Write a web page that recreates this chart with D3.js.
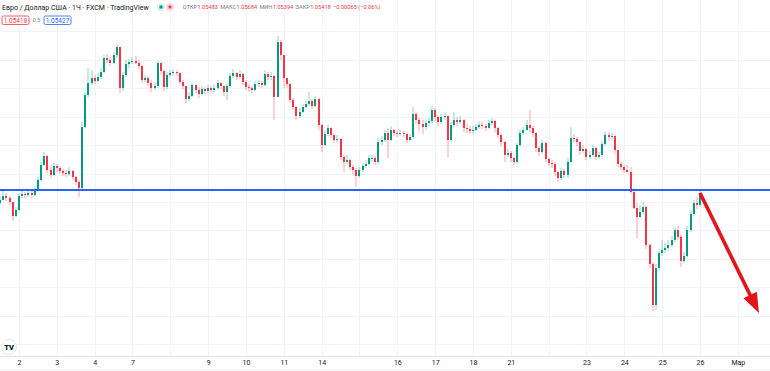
<!DOCTYPE html>
<html><head><meta charset="utf-8">
<script src="https://cdn.jsdelivr.net/npm/d3@7"></script>
<style>html,body{margin:0;padding:0;background:#fff;overflow:hidden}text{font-family:Roboto,"Liberation Sans",sans-serif}</style>
</head><body><svg id="c" width="770" height="371"></svg>
<script>
// ---- data (EUR/USD, 2h candles) ----
const open=[1.0537,1.0540,1.0544,1.0542,1.0538,1.0524,1.0530,1.0544,1.0546,1.0545,
1.0547,1.0545,1.0551,1.0560,1.0575,1.0584,1.0570,1.0565,1.0574,1.0572,
1.0569,1.0567,1.0566,1.0569,1.0563,1.0558,1.0552,1.0613,1.0645,1.0657,
1.0662,1.0659,1.0663,1.0668,1.0682,1.0680,1.0677,1.0685,1.0693,1.0652,
1.0665,1.0676,1.0678,1.0679,1.0677,1.0674,1.0660,1.0662,1.0657,1.0652,
1.0654,1.0677,1.0669,1.0653,1.0665,1.0667,1.0668,1.0667,1.0658,1.0654,
1.0641,1.0644,1.0655,1.0650,1.0646,1.0651,1.0649,1.0652,1.0650,1.0652,
1.0657,1.0654,1.0648,1.0654,1.0664,1.0667,1.0663,1.0666,1.0658,1.0653,
1.0652,1.0650,1.0656,1.0657,1.0655,1.0666,1.0663,1.0664,1.0643,1.0698,
1.0685,1.0662,1.0656,1.0640,1.0633,1.0624,1.0628,1.0633,1.0636,1.0639,
1.0634,1.0641,1.0615,1.0595,1.0606,1.0612,1.0605,1.0600,1.0601,1.0583,
1.0578,1.0580,1.0573,1.0570,1.0564,1.0570,1.0574,1.0576,1.0582,1.0582,
1.0578,1.0598,1.0600,1.0607,1.0600,1.0610,1.0607,1.0606,1.0607,1.0606,
1.0600,1.0603,1.0626,1.0620,1.0616,1.0613,1.0617,1.0619,1.0630,1.0623,
1.0618,1.0623,1.0624,1.0600,1.0615,1.0620,1.0618,1.0620,1.0612,1.0611,
1.0609,1.0610,1.0613,1.0615,1.0614,1.0612,1.0617,1.0619,1.0612,1.0605,
1.0598,1.0585,1.0587,1.0582,1.0578,1.0595,1.0607,1.0610,1.0615,1.0612,
1.0607,1.0592,1.0588,1.0597,1.0581,1.0577,1.0576,1.0568,1.0562,1.0569,
1.0565,1.0578,1.0602,1.0601,1.0598,1.0589,1.0591,1.0583,1.0585,1.0592,
1.0583,1.0585,1.0596,1.0605,1.0603,1.0604,1.0590,1.0576,1.0573,1.0570,
1.0568,1.0548,1.0532,1.0523,1.0528,1.0533,1.0495,1.0476,1.0435,1.0472,
1.0487,1.0490,1.0492,1.0495,1.0500,1.0510,1.0503,1.0479,1.0484,1.0510,
1.0526,1.0537,1.0535];
const close=[1.0540,1.0544,1.0542,1.0538,1.0524,1.0530,1.0544,1.0546,1.0545,1.0547,
1.0545,1.0551,1.0560,1.0575,1.0584,1.0570,1.0565,1.0574,1.0572,1.0569,
1.0567,1.0566,1.0569,1.0563,1.0558,1.0552,1.0613,1.0645,1.0657,1.0662,
1.0659,1.0663,1.0668,1.0682,1.0680,1.0677,1.0685,1.0693,1.0652,1.0665,
1.0676,1.0678,1.0679,1.0677,1.0674,1.0660,1.0662,1.0657,1.0652,1.0654,
1.0677,1.0669,1.0653,1.0665,1.0667,1.0668,1.0667,1.0658,1.0654,1.0641,
1.0644,1.0655,1.0650,1.0646,1.0651,1.0649,1.0652,1.0650,1.0652,1.0657,
1.0654,1.0648,1.0654,1.0664,1.0667,1.0663,1.0666,1.0658,1.0653,1.0652,
1.0650,1.0656,1.0657,1.0655,1.0666,1.0663,1.0664,1.0643,1.0698,1.0685,
1.0662,1.0656,1.0640,1.0633,1.0624,1.0628,1.0633,1.0636,1.0639,1.0634,
1.0641,1.0615,1.0595,1.0606,1.0612,1.0605,1.0600,1.0601,1.0583,1.0578,
1.0580,1.0573,1.0570,1.0564,1.0570,1.0574,1.0576,1.0582,1.0582,1.0578,
1.0598,1.0600,1.0607,1.0600,1.0610,1.0607,1.0606,1.0607,1.0606,1.0600,
1.0603,1.0626,1.0620,1.0616,1.0613,1.0617,1.0619,1.0630,1.0623,1.0618,
1.0623,1.0624,1.0600,1.0615,1.0620,1.0618,1.0620,1.0612,1.0611,1.0609,
1.0610,1.0613,1.0615,1.0614,1.0612,1.0617,1.0619,1.0612,1.0605,1.0598,
1.0585,1.0587,1.0582,1.0578,1.0595,1.0607,1.0610,1.0615,1.0612,1.0607,
1.0592,1.0588,1.0597,1.0581,1.0577,1.0576,1.0568,1.0562,1.0569,1.0565,
1.0578,1.0602,1.0601,1.0598,1.0589,1.0591,1.0583,1.0585,1.0592,1.0583,
1.0585,1.0596,1.0605,1.0603,1.0604,1.0590,1.0576,1.0573,1.0570,1.0568,
1.0548,1.0532,1.0523,1.0528,1.0533,1.0495,1.0476,1.0435,1.0472,1.0487,
1.0490,1.0492,1.0495,1.0500,1.0510,1.0503,1.0479,1.0484,1.0510,1.0526,
1.0537,1.0535,1.0547];
const high=[1.0544,1.0550,1.0547,1.0544,1.0538,1.0533,1.0546,1.0549,1.0548,1.0550,
1.0549,1.0554,1.0563,1.0578,1.0588,1.0585,1.0575,1.0577,1.0576,1.0574,
1.0571,1.0570,1.0573,1.0570,1.0564,1.0560,1.0618,1.0648,1.0672,1.0670,
1.0665,1.0667,1.0672,1.0685,1.0686,1.0683,1.0688,1.0696,1.0693,1.0668,
1.0680,1.0681,1.0683,1.0684,1.0680,1.0675,1.0665,1.0664,1.0660,1.0658,
1.0679,1.0677,1.0670,1.0668,1.0670,1.0671,1.0670,1.0668,1.0660,1.0654,
1.0648,1.0657,1.0656,1.0653,1.0654,1.0653,1.0655,1.0654,1.0656,1.0660,
1.0658,1.0655,1.0656,1.0667,1.0671,1.0668,1.0670,1.0667,1.0660,1.0656,
1.0654,1.0659,1.0660,1.0659,1.0670,1.0668,1.0668,1.0665,1.0704,1.0700,
1.0685,1.0662,1.0657,1.0642,1.0634,1.0632,1.0636,1.0640,1.0648,1.0641,
1.0644,1.0642,1.0616,1.0610,1.0615,1.0613,1.0607,1.0605,1.0602,1.0585,
1.0585,1.0581,1.0575,1.0572,1.0573,1.0577,1.0580,1.0585,1.0585,1.0584,
1.0602,1.0604,1.0610,1.0612,1.0614,1.0611,1.0610,1.0610,1.0609,1.0607,
1.0606,1.0633,1.0628,1.0622,1.0620,1.0621,1.0622,1.0634,1.0632,1.0625,
1.0626,1.0627,1.0623,1.0618,1.0628,1.0623,1.0624,1.0621,1.0616,1.0614,
1.0614,1.0616,1.0618,1.0618,1.0616,1.0620,1.0622,1.0620,1.0613,1.0606,
1.0599,1.0591,1.0589,1.0583,1.0597,1.0610,1.0613,1.0620,1.0630,1.0614,
1.0608,1.0594,1.0600,1.0598,1.0582,1.0580,1.0578,1.0569,1.0572,1.0571,
1.0582,1.0613,1.0606,1.0603,1.0599,1.0595,1.0592,1.0589,1.0595,1.0593,
1.0588,1.0599,1.0608,1.0608,1.0607,1.0605,1.0590,1.0578,1.0575,1.0575,
1.0573,1.0552,1.0537,1.0535,1.0538,1.0534,1.0496,1.0478,1.0476,1.0491,
1.0500,1.0497,1.0500,1.0504,1.0513,1.0514,1.0505,1.0488,1.0514,1.0530,
1.0540,1.0543,1.0549];
const low=[1.0535,1.0540,1.0539,1.0535,1.0519,1.0523,1.0529,1.0542,1.0542,1.0543,
1.0542,1.0544,1.0550,1.0559,1.0574,1.0567,1.0562,1.0564,1.0568,1.0566,
1.0564,1.0563,1.0564,1.0560,1.0555,1.0543,1.0550,1.0612,1.0643,1.0655,
1.0656,1.0658,1.0661,1.0667,1.0677,1.0674,1.0676,1.0682,1.0647,1.0649,
1.0663,1.0672,1.0676,1.0676,1.0670,1.0657,1.0658,1.0654,1.0648,1.0650,
1.0652,1.0665,1.0649,1.0651,1.0663,1.0664,1.0664,1.0656,1.0651,1.0637,
1.0639,1.0643,1.0647,1.0642,1.0645,1.0646,1.0647,1.0647,1.0648,1.0650,
1.0651,1.0644,1.0640,1.0652,1.0662,1.0660,1.0661,1.0655,1.0650,1.0648,
1.0647,1.0649,1.0653,1.0652,1.0654,1.0660,1.0660,1.0620,1.0643,1.0680,
1.0652,1.0652,1.0637,1.0630,1.0620,1.0622,1.0627,1.0632,1.0634,1.0631,
1.0633,1.0610,1.0588,1.0594,1.0604,1.0602,1.0597,1.0597,1.0580,1.0568,
1.0576,1.0570,1.0566,1.0553,1.0562,1.0568,1.0572,1.0575,1.0578,1.0575,
1.0576,1.0595,1.0598,1.0582,1.0599,1.0604,1.0603,1.0604,1.0603,1.0597,
1.0599,1.0602,1.0616,1.0609,1.0606,1.0610,1.0614,1.0617,1.0619,1.0614,
1.0616,1.0620,1.0583,1.0598,1.0613,1.0614,1.0616,1.0608,1.0607,1.0606,
1.0606,1.0609,1.0611,1.0611,1.0609,1.0611,1.0615,1.0608,1.0602,1.0594,
1.0578,1.0583,1.0578,1.0575,1.0576,1.0593,1.0605,1.0609,1.0608,1.0603,
1.0588,1.0584,1.0586,1.0578,1.0574,1.0572,1.0564,1.0558,1.0560,1.0562,
1.0562,1.0577,1.0597,1.0594,1.0585,1.0587,1.0580,1.0581,1.0583,1.0580,
1.0581,1.0583,1.0594,1.0599,1.0600,1.0586,1.0573,1.0570,1.0567,1.0568,
1.0546,1.0531,1.0502,1.0522,1.0526,1.0491,1.0472,1.0429,1.0430,1.0470,
1.0484,1.0487,1.0489,1.0493,1.0498,1.0500,1.0473,1.0477,1.0482,1.0508,
1.0524,1.0531,1.0533];

const barsPerDay=12, firstDayBar=6;
const dayNames=["2","3","4","7","8","9","10","11","14","15","16","17","18","21","22","23","24","25","26","Мар"];
const hiddenDayNames=["8","15","22"];
const levelPrice=1.0550;
const arrowFrom=[222,1.0547], arrowTo=[240.7,1.0427];

const symbolTitle="Евро / Доллар США · 1Ч · FXCM · TradingView";
const ohlcLabels=["ОТКР","МАКС","МИН","ЗАКР"];
const ohlcValues=["1.05483","1.05684","1.05394","1.05418"];
const changeText="−0.00065 (−0.06%)";
const bidText="1.05418", spreadText="0.5", askText="1.05427";

// ---- drawing ----
const svg=d3.select("#c");
const x=d3.scaleLinear().domain([0,close.length-1]).range([0.08,700]);
const y=d3.scaleLinear().domain([1.0740,1.0369]).range([0,371]);
const paneBottom=356;
const UP="#089981", DOWN="#f23645";

const dayIdx=dayNames.map((d,k)=>firstDayBar+barsPerDay*k);
const grid=svg.append("g").attr("stroke","#f0f3fa").attr("stroke-width",1);
grid.selectAll(".v").data(dayIdx).join("line")
  .attr("x1",d=>Math.round(x(d))+0.5).attr("x2",d=>Math.round(x(d))+0.5)
  .attr("y1",0).attr("y2",paneBottom);
const gridPrices=d3.range(12).map(k=>1.0709-0.00285*k);
grid.selectAll(".h").data(gridPrices).join("line")
  .attr("x1",0).attr("x2",770)
  .attr("y1",d=>Math.round(y(d))+0.5).attr("y2",d=>Math.round(y(d))+0.5);

// candles
const idx=d3.range(close.length);
const cg=svg.append("g");
cg.selectAll("line").data(idx).join("line")
  .attr("x1",i=>Math.round(x(i))).attr("x2",i=>Math.round(x(i)))
  .attr("y1",i=>y(Math.max(high[i],open[i],close[i])))
  .attr("y2",i=>y(Math.min(low[i],open[i],close[i])))
  .attr("stroke",i=>close[i]>=open[i]?UP:DOWN).attr("stroke-opacity",0.45).attr("stroke-width",1);
cg.selectAll("rect").data(idx).join("rect")
  .attr("x",i=>Math.round(x(i))-1).attr("width",2)
  .attr("y",i=>y(Math.max(open[i],close[i])))
  .attr("height",i=>Math.max(1,Math.abs(y(open[i])-y(close[i]))))
  .attr("fill",i=>close[i]>=open[i]?UP:DOWN);

// level line
svg.append("line").attr("x1",0).attr("x2",770)
  .attr("y1",y(levelPrice)).attr("y2",y(levelPrice))
  .attr("stroke","#2962ff").attr("stroke-width",2);

// arrow
{
  const x0=x(arrowFrom[0]),y0=y(arrowFrom[1]),x1=x(arrowTo[0]),y1=y(arrowTo[1]);
  const dx=x1-x0,dy=y1-y0,L=Math.hypot(dx,dy),ux=dx/L,uy=dy/L;
  const hl=20,hw=7.5;
  const bx=x1-ux*hl,by=y1-uy*hl;
  svg.append("line").attr("x1",x0).attr("y1",y0).attr("x2",bx+ux*2).attr("y2",by+uy*2)
    .attr("stroke","#e3151a").attr("stroke-width",3.6);
  svg.append("path").attr("d",`M${x1},${y1}L${bx-uy*hw},${by+ux*hw}L${bx+uy*hw},${by-ux*hw}Z`)
    .attr("fill","#e3151a");
}

// axis
svg.append("line").attr("x1",0).attr("x2",770).attr("y1",paneBottom+0.5).attr("y2",paneBottom+0.5).attr("stroke","#e0e3eb");
svg.append("line").attr("x1",0).attr("x2",770).attr("y1",369.5).attr("y2",369.5).attr("stroke","#eef0f4");
const shown=dayIdx.filter((d,k)=>!hiddenDayNames.includes(dayNames[k]));
const ax=svg.append("g").attr("transform",`translate(0,${paneBottom})`)
  .call(d3.axisBottom(x).tickValues(shown).tickFormat(d=>dayNames[(d-firstDayBar)/barsPerDay]).tickSize(0).tickPadding(4));
ax.select(".domain").remove();
ax.selectAll("text").attr("font-size",7).attr("fill","#131722").attr("font-family","Roboto,sans-serif");

// logo
svg.append("circle").attr("cx",9).attr("cy",347).attr("r",7.5).attr("fill","#fff").attr("stroke","#e6e8ee");
svg.append("text").attr("x",9).attr("y",349.5).attr("text-anchor","middle").attr("font-size",7.5)
  .attr("font-weight",900).attr("fill","#131722").text("TV");

// header title: font size fitted to the reference width
{
  const t=svg.append("text").attr("x",2).attr("y",9.5).attr("font-size",10).attr("fill","#131722").text(symbolTitle);
  const w=t.node().getComputedTextLength();
  t.attr("font-size",10*147/w);
}
svg.append("circle").attr("cx",161).attr("cy",7).attr("r",4).attr("fill","#d5f2e8");
svg.append("circle").attr("cx",161).attr("cy",7).attr("r",1.7).attr("fill",UP);
svg.append("circle").attr("cx",170).attr("cy",7).attr("r",4).attr("fill","#fcd9de");
svg.append("rect").attr("x",168.6).attr("y",5.6).attr("width",2.8).attr("height",2.8).attr("fill",DOWN);

// OHLC legend: chained segments, font size fitted so the row spans the reference width
{
  const segs=[];
  ohlcLabels.forEach((l,k)=>{segs.push({t:l,c:"#787b86",gap:k?2.2:0});segs.push({t:ohlcValues[k],c:DOWN,gap:0.3});});
  segs.push({t:changeText,c:DOWN,gap:2.2});
  const g=svg.append("g");
  const nodes=segs.map(s=>g.append("text").attr("y",9.3).attr("font-size",10).attr("fill",s.c).text(s.t));
  const widths=nodes.map(n=>n.node().getComputedTextLength());
  const gaps=d3.sum(segs,s=>s.gap);
  const fs=10*(198-gaps)/d3.sum(widths);
  let cx=182.7;
  nodes.forEach((n,k)=>{cx+=segs[k].gap;n.attr("font-size",fs).attr("x",cx);cx+=widths[k]*fs/10;});
}

svg.append("rect").attr("x",2).attr("y",16).attr("width",27).attr("height",8.5).attr("rx",1.5)
  .attr("fill","#fff").attr("stroke",DOWN).attr("stroke-width",0.8);
svg.append("text").attr("x",15.5).attr("y",22.6).attr("text-anchor","middle").attr("font-size",6.5).attr("fill",DOWN).text(bidText);
svg.append("text").attr("x",36.5).attr("y",22.4).attr("text-anchor","middle").attr("font-size",5.5).attr("fill","#787b86").text(spreadText);
svg.append("rect").attr("x",44).attr("y",16).attr("width",27).attr("height",8.5).attr("rx",1.5)
  .attr("fill","#fff").attr("stroke","#2962ff").attr("stroke-width",0.8);
svg.append("text").attr("x",57.5).attr("y",22.6).attr("text-anchor","middle").attr("font-size",6.5).attr("fill","#2962ff").text(askText);
</script></body></html>
